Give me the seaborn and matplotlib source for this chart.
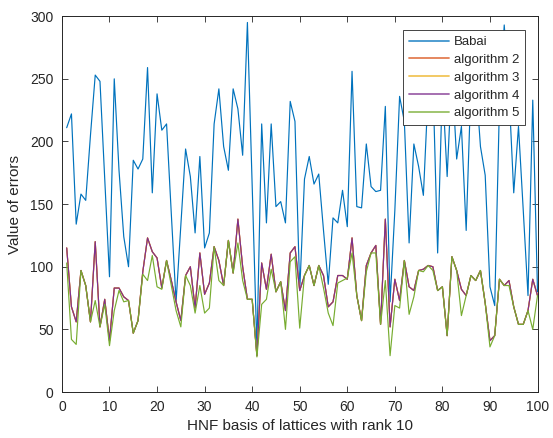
import numpy as np
import pandas as pd
import matplotlib
matplotlib.use("Agg")
import matplotlib.pyplot as plt
import seaborn as sns

# lattice index 1..100
idx = np.arange(1, 101)

babai = [211, 222, 134, 158, 153, 205, 253, 248, 170, 92,
         250, 177, 124, 100, 185, 178, 186, 259, 159, 238,
         209, 214, 142, 72, 133, 194, 172, 127, 188, 115,
         127, 214, 242, 196, 177, 242, 226, 189, 295, 165,
         35, 214, 135, 214, 148, 152, 135, 232, 216, 81,
         170, 188, 166, 174, 129, 86, 139, 135, 161, 132,
         256, 148, 147, 198, 164, 160, 161, 228, 72, 145,
         236, 216, 119, 198, 180, 157, 240, 250, 111, 245,
         172, 255, 186, 212, 129, 245, 250, 196, 173, 84,
         69, 230, 293, 240, 159, 212, 145, 77, 233, 80]

alg4 = [115, 68, 56, 97, 85, 56, 120, 52, 74, 41,
        83, 83, 76, 73, 47, 57, 96, 123, 112, 107,
        83, 105, 89, 72, 57, 93, 100, 67, 111, 78,
        87, 116, 105, 85, 121, 95, 138, 100, 74, 74,
        29, 103, 82, 110, 80, 88, 65, 111, 116, 81,
        93, 101, 85, 101, 93, 68, 72, 93, 93, 90,
        123, 77, 57, 101, 111, 117, 54, 138, 52, 90,
        73, 105, 84, 81, 97, 98, 101, 100, 81, 84,
        45, 108, 97, 82, 77, 93, 89, 97, 71, 41,
        45, 90, 85, 89, 68, 54, 54, 65, 90, 77]

alg5 = [103, 42, 38, 97, 85, 56, 73, 52, 70, 37,
        65, 81, 72, 73, 47, 57, 94, 89, 109, 84,
        82, 105, 85, 65, 52, 93, 85, 63, 85, 63,
        67, 116, 89, 85, 121, 95, 119, 89, 74, 74,
        28, 70, 74, 98, 80, 88, 50, 104, 108, 51,
        93, 101, 85, 101, 83, 63, 53, 87, 89, 91,
        111, 77, 57, 96, 111, 111, 54, 89, 29, 69,
        67, 105, 62, 76, 97, 96, 101, 97, 81, 84,
        45, 108, 97, 61, 77, 93, 89, 97, 71, 36,
        45, 90, 85, 85, 68, 54, 54, 65, 50, 77]

# algorithms 2 and 3 sit under algorithm 4 in the picture
alg2 = list(alg4)
alg3 = list(alg4)

names = ["Babai", "algorithm 2", "algorithm 3", "algorithm 4", "algorithm 5"]
series = [babai, alg2, alg3, alg4, alg5]
colors = ["#0072BD", "#D95319", "#EDB120", "#7E2F8E", "#77AC30"]

sns.set_style("ticks")
plt.rcParams['font.family'] = ['Liberation Sans', 'DejaVu Sans']
axcol = (0.15, 0.15, 0.15)

fig = plt.figure(figsize=(5.53, 4.38), dpi=100)
ax = fig.add_axes([0.112, 0.105, 0.860, 0.858])

for name, vals, c in zip(names, series, colors):
    sns.lineplot(x=idx, y=vals, ax=ax, color=c, lw=0.85, label=name)

ax.set_xlim(0, 100)
ax.set_ylim(0, 300)
ax.set_xticks(np.arange(0, 101, 10))
ax.set_yticks(np.arange(0, 301, 50))
ax.tick_params(direction="in", top=True, right=True, length=4, width=0.6,
               colors=axcol, labelsize=10, pad=6)
for s in ax.spines.values():
    s.set_color(axcol)
    s.set_linewidth(0.7)
    s.set_visible(True)

ax.set_xlabel("HNF basis of lattices with rank 10", fontsize=11, color=axcol, labelpad=3)
ax.set_ylabel("Value of errors", fontsize=11, color=axcol, labelpad=6)

leg = ax.legend(loc="upper right", bbox_to_anchor=(0.974, 0.963), fontsize=9.5,
                fancybox=False, framealpha=1, edgecolor=axcol, handlelength=3.0,
                borderpad=0.45, labelspacing=0.42, handletextpad=0.4,
                borderaxespad=0)
leg.get_frame().set_linewidth(0.6)
for h in leg.get_lines():
    h.set_linewidth(1.3)
    h.set_alpha(0.75)

fig.savefig("out.png", dpi=100)
